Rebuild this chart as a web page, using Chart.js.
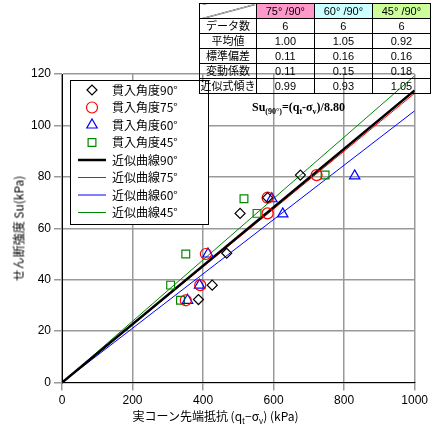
<!DOCTYPE html>
<html>
<head>
<script src="https://cdn.jsdelivr.net/npm/chart.js"></script>
<style>
body{margin:0;background:#fff;font-family:"Noto Sans CJK JP",sans-serif;}
#wrap{position:relative;width:431px;height:430px;}
canvas{position:absolute;left:0;top:0;}
table{position:absolute;left:199px;top:3px;border-collapse:collapse;font-size:11px;font-family:"Liberation Sans","Noto Sans CJK JP",sans-serif;}
td{border:1px solid #000;height:14px;padding:0;text-align:center;line-height:14px;}
.lbl{width:57px;}
.c{width:58px;}
#eq{position:absolute;left:252px;top:100px;font:bold 12px "Liberation Serif",serif;}
#xt{position:absolute;left:0;width:431px;top:407px;text-align:center;font-size:12px;}
#yt{position:absolute;left:-62px;top:220px;width:160px;text-align:center;font-size:12px;transform:rotate(-90deg);}
sub{font-size:8px;}
</style>
</head>
<body>
<div id="wrap">
<canvas id="c" width="431" height="430"></canvas>
<table>
<tr><td class="lbl" style="background:linear-gradient(165deg,transparent 48%,#000 50%,transparent 53%);"></td><td class="c" style="background:#ff99cc">75° /90°</td><td class="c" style="background:#ccffff">60° /90°</td><td class="c" style="background:#ccff99">45° /90°</td></tr>
<tr><td>データ数</td><td>6</td><td>6</td><td>6</td></tr>
<tr><td>平均値</td><td>1.00</td><td>1.05</td><td>0.92</td></tr>
<tr><td>標準偏差</td><td>0.11</td><td>0.16</td><td>0.16</td></tr>
<tr><td>変動係数</td><td>0.11</td><td>0.15</td><td>0.18</td></tr>
<tr><td>近似式傾き</td><td>0.99</td><td>0.93</td><td>1.05</td></tr>
</table>
<div id="eq">Su<sub>(90°)</sub>=(q<sub>t</sub>-σ<sub>v</sub>)/8.80</div>
<div id="yt">せん断強度 Su(kPa)</div>
<div id="xt">実コーン先端抵抗 (q<sub>t</sub>−σ<sub>v</sub>) (kPa)</div>
</div>
<script>
const x90 = [676, 583, 505, 467, 426, 387];
const y90 = [80.7, 71.9, 65.8, 50.3, 37.9, 32.3];
const x75 = [722, 583, 583, 408, 392, 351];
const y75 = [80.7, 71.9, 65.8, 50.0, 37.9, 32.0];
const x60 = [830, 595, 626, 414, 390, 356];
const y60 = [80.4, 71.5, 65.6, 50.0, 37.9, 32.0];
const x45 = [746, 516, 553, 351, 308, 336];
const y45 = [80.7, 71.5, 65.8, 50.0, 37.9, 32.0];
const slope90 = 1 / 8.80;
const slope75 = 0.99 / 8.80;
const slope60 = 0.93 / 8.80;
const slope45 = 1.05 / 8.80;

const pts = (xs, ys) => xs.map((x, i) => ({x, y: ys[i]}));
const line = s => [{x: 0, y: 0}, {x: 1000, y: 1000 * s}];

const items = [
  {label: '貫入角度90°', type: 'scatter', data: pts(x90, y90), pointStyle: 'rectRot', borderColor: '#000', radius: 5},
  {label: '貫入角度75°', type: 'scatter', data: pts(x75, y75), pointStyle: 'circle', borderColor: '#f00', radius: 5.5},
  {label: '貫入角度60°', type: 'scatter', data: pts(x60, y60), pointStyle: 'triangle', borderColor: '#00f', radius: 6},
  {label: '貫入角度45°', type: 'scatter', data: pts(x45, y45), pointStyle: 'rect', borderColor: '#080', radius: 5.5},
  {label: '近似曲線90°', type: 'line', data: line(slope90), borderColor: '#000', borderWidth: 2.5},
  {label: '近似曲線75°', type: 'line', data: line(slope75), borderColor: '#f00', borderWidth: 1},
  {label: '近似曲線60°', type: 'line', data: line(slope60), borderColor: '#00f', borderWidth: 1},
  {label: '近似曲線45°', type: 'line', data: line(slope45), borderColor: '#080', borderWidth: 1}
];
const datasets = items.map(d => d.type === 'scatter'
  ? {type: 'scatter', label: d.label, data: d.data, pointStyle: d.pointStyle, borderColor: d.borderColor, backgroundColor: 'transparent', pointRadius: d.radius, borderWidth: 1.2, order: 1}
  : {type: 'line', label: d.label, data: d.data, borderColor: d.borderColor, borderWidth: d.borderWidth, pointRadius: 0, fill: false, order: 2});

const legendBox = {
  id: 'legendBox',
  afterDraw(chart) {
    const c = chart.ctx;
    const x0 = 70, y0 = 80, w = 138, h = 144;
    c.save();
    c.fillStyle = '#fff';
    c.fillRect(x0, y0, w, h);
    c.strokeStyle = '#000'; c.lineWidth = 1;
    c.strokeRect(x0 + 0.5, y0 + 0.5, w, h);
    c.font = '12px "Noto Sans CJK JP"';
    c.textBaseline = 'middle';
    chart.data.datasets.forEach((d, i) => {
      const y = y0 + 10 + i * 17.5;
      if (d.type === 'scatter') {
        c.fillStyle = 'rgba(0,0,0,0)';
        c.strokeStyle = d.borderColor; c.lineWidth = 1.2;
        Chart.helpers.drawPoint(c, {pointStyle: d.pointStyle, radius: d.pointRadius, borderWidth: 1.2}, x0 + 22, y);
      } else {
        c.strokeStyle = d.borderColor; c.lineWidth = d.borderWidth;
        c.beginPath(); c.moveTo(x0 + 8, y); c.lineTo(x0 + 36, y); c.stroke();
      }
      c.fillStyle = '#000';
      c.fillText(d.label, x0 + 42, y);
    });
    c.restore();
  }
};

new Chart(document.getElementById('c'), {
  type: 'scatter',
  data: {datasets},
  options: {
    responsive: false, animation: false,
    layout: {padding: {top: 74, right: 0, bottom: 19, left: 0}},
    plugins: {legend: {display: false}, tooltip: {enabled: false}},
    scales: {
      x: {type: 'linear', min: 0, max: 1000,
        ticks: {stepSize: 200, color: '#000', font: {size: 12, family: 'Liberation Sans'}, callback: v => String(v)},
        grid: {color: '#999', lineWidth: 1.5}, border: {color: '#000'}},
      y: {min: 0, max: 120,
        afterFit: s => { s.width = 62; },
        ticks: {stepSize: 20, color: '#000', font: {size: 12, family: 'Liberation Sans'}},
        grid: {color: '#999', lineWidth: 1.5}, border: {color: '#000'}}
    }
  },
  plugins: [legendBox]
});
</script>
</body>
</html>
